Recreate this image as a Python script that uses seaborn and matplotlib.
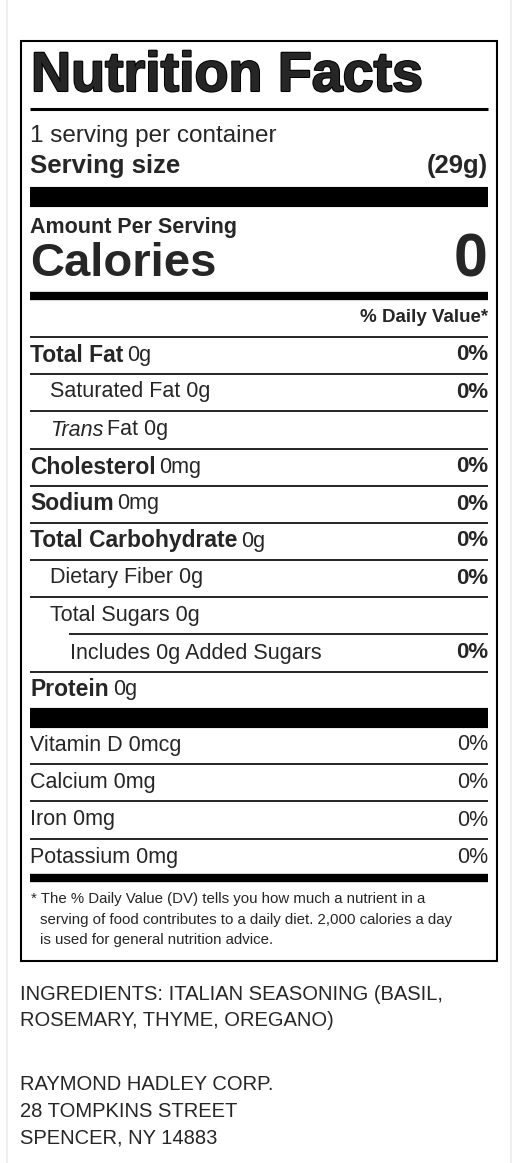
import matplotlib
matplotlib.use("Agg")
import matplotlib.pyplot as plt
import seaborn as sns

sns.set_theme(style="white")
plt.rcParams['font.family'] = ['Liberation Sans', 'DejaVu Sans']

servings = "1 serving per container"
serving_size = "(29g)"
calories = "0"
nutrients = ["Total Fat", "Saturated Fat", "Trans Fat", "Cholesterol", "Sodium",
             "Total Carbohydrate", "Dietary Fiber", "Total Sugars", "Includes 0g Added Sugars", "Protein"]
amounts = ["0g", "0g", "0g", "0mg", "0mg", "0g", "0g", "0g", "", "0g"]
dv = ["0%", "0%", "", "0%", "0%", "0%", "0%", "", "0%", ""]
bold = [True, False, False, True, True, True, False, False, False, True]
indent = [0, 1, 1, 0, 0, 0, 1, 1, 2, 0]
vitamins = ["Vitamin D 0mcg", "Calcium 0mg", "Iron 0mg", "Potassium 0mg"]
vit_dv = ["0%", "0%", "0%", "0%"]
footnote = ["* The % Daily Value (DV) tells you how much a nutrient in a",
            "serving of food contributes to a daily diet. 2,000 calories a day",
            "is used for general nutrition advice."]
ingredients = ["INGREDIENTS: ITALIAN SEASONING (BASIL,", "ROSEMARY, THYME, OREGANO)"]
address = ["RAYMOND HADLEY CORP.", "28 TOMPKINS STREET", "SPENCER, NY 14883"]

fig = plt.figure(figsize=(5.23, 11.63), dpi=100)
ax = fig.add_axes([0, 0, 1, 1])
ax.set_xlim(0, 523); ax.set_ylim(1163, 0); ax.axis('off')
renderer = fig.canvas.get_renderer()

def right_edge(t):
    bb = t.get_window_extent(renderer=renderer)
    return ax.transData.inverted().transform((bb.x1, bb.y0))[0]

ax.plot([7, 7], [0, 1163], color='#eeeeee', lw=1.5)
ax.plot([511, 511], [0, 1163], color='#eeeeee', lw=1.5)
ax.add_patch(plt.Rectangle((21, 41), 476, 920, fill=False, ec='black', lw=1.5))

L, R = 30, 488
def hl(y, lw, x0=L):
    ax.plot([x0, R], [y, y], color='black', lw=lw, solid_capstyle='butt')

ax.text(L + 1, 77, "Nutrition Facts", fontsize=40, fontweight='heavy', va='center', ha='left',
        path_effects=[__import__('matplotlib.patheffects', fromlist=['x']).withStroke(linewidth=1.5, foreground='black')],
        transform=ax.transData)
hl(109, 2.2)
ax.text(L, 136, servings, fontsize=17.5, va='center')
ax.text(L, 166, "Serving size", fontsize=18.5, fontweight='bold', va='center')
ax.text(R, 166, serving_size, fontsize=18.5, fontweight='bold', va='center', ha='right')
hl(197, 14.5)
ax.text(L, 227, "Amount Per Serving", fontsize=15.5, fontweight='bold', va='center')
ax.text(L, 264, "Calories", fontsize=34, fontweight='bold', va='center')
ax.text(R, 261, calories, fontsize=44, fontweight='bold', va='center', ha='right')
hl(296, 6)
ax.text(R, 318, "% Daily Value*", fontsize=13.5, fontweight='bold', va='center', ha='right')
hl(337, 1.2)

ys = [355, 392, 430, 467, 504, 541, 578, 615, 653, 690]
fs = 15.5
for i, (n, a, d, b, ind, y) in enumerate(zip(nutrients, amounts, dv, bold, indent, ys)):
    x = L + [0, 20, 40][ind]
    if n == "Trans Fat":
        t = ax.text(x, y, "Trans", fontsize=fs, style='italic', va='center')
        ax.text(right_edge(t) + 4, y, "Fat " + a, fontsize=fs, va='center')
    elif b:
        t = ax.text(x, y, n, fontsize=16.5, fontweight='bold', va='center')
        ax.text(right_edge(t) + 4, y, a, fontsize=fs, va='center')
    else:
        ax.text(x, y, (n + " " + a).strip(), fontsize=fs, va='center')
    if d:
        ax.text(R, y, d, fontsize=16, fontweight='bold', va='center', ha='right')
    if i < len(ys) - 1:
        hl(y + 18.5, 1.2, x0=(L + 39) if n == "Total Sugars" else L)
hl(718, 14.5)
for j, (v, d) in enumerate(zip(vitamins, vit_dv)):
    y = 745 + j * 37.5
    ax.text(L, y, v, fontsize=fs, va='center')
    ax.text(R, y, d, fontsize=fs, va='center', ha='right')
    if j < 3:
        hl(y + 18.5, 1.2)
hl(878, 6)
ax.text(L + 1, 899, footnote[0], fontsize=10.8, va='center')
ax.text(L + 10, 920, footnote[1], fontsize=10.8, va='center')
ax.text(L + 10, 940, footnote[2], fontsize=10.8, va='center')

for k, t in enumerate(ingredients):
    ax.text(20, 994 + k * 27, t, fontsize=14.5, va='center')
for k, t in enumerate(address):
    ax.text(20, 1085 + k * 26.5, t, fontsize=14.5, va='center')

fig.savefig("out.png", dpi=100, facecolor='white')
